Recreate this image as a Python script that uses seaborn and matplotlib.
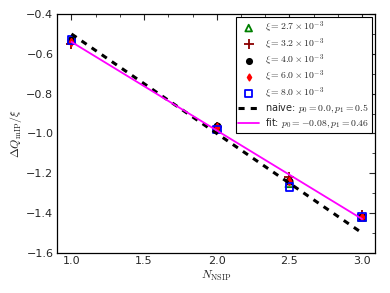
import numpy as np
import pandas as pd
import matplotlib
matplotlib.use("Agg")
import matplotlib.pyplot as plt
from matplotlib.ticker import MultipleLocator
import seaborn as sns

# values
n_nsip = [1.0, 2.0, 2.5, 3.0]
dq_27 = [-0.53, -0.97, -1.25, -1.42]
dq_32 = [-0.55, -0.97, -1.22, -1.41]
dq_40 = [-0.53, -0.96, -1.24, -1.42]
dq_60 = [-0.54, -0.97, -1.24, -1.42]
dq_80 = [-0.53, -0.98, -1.27, -1.42]
line_x = [1.0, 3.0]
naive_y = [-0.50, -1.50]
fit_y = [-0.54, -1.43]

sns.set_style("white")
plt.rcParams["mathtext.fontset"] = "cm"
plt.rcParams["font.family"] = ["DejaVu Sans"]

fig = plt.figure(figsize=(3.9, 2.93), dpi=100)
ax = fig.add_axes([0.146, 0.137, 0.816, 0.815])

series = [
    (dq_27, r"$\xi=2.7\times10^{-3}$", "^", "green", "none", 32),
    (dq_32, r"$\xi=3.2\times10^{-3}$", "+", "darkred", "darkred", 60),
    (dq_40, r"$\xi=4.0\times10^{-3}$", "o", "black", "black", 20),
    (dq_60, r"$\xi=6.0\times10^{-3}$", "d", "red", "red", 14),
    (dq_80, r"$\xi=8.0\times10^{-3}$", "s", "blue", "none", 32),
]
for vals, lab, mk, col, face, size in series:
    df = pd.DataFrame({"x": n_nsip, "y": vals})
    if face == "none":
        sns.scatterplot(data=df, x="x", y="y", marker=mk, s=size, facecolors="none",
                        edgecolor=col, linewidth=1.3, label=lab, ax=ax, zorder=3)
    else:
        sns.scatterplot(data=df, x="x", y="y", marker=mk, s=size, color=col,
                        edgecolor=col, linewidth=1.3, label=lab, ax=ax, zorder=3)

lines = pd.DataFrame({"x": line_x, "naive": naive_y, "fit": fit_y})
sns.lineplot(data=lines, x="x", y="naive", color="black", linestyle=(0, (2, 2)), linewidth=2.2,
             label=r"naive: $p_0=0.0, p_1=0.5$", ax=ax, zorder=4)
sns.lineplot(data=lines, x="x", y="fit", color="magenta", linewidth=1.3,
             label=r"fit: $p_0=-0.08, p_1=0.46$", ax=ax, zorder=4)

ax.set_xlim(0.9, 3.09)
ax.set_ylim(-1.6, -0.4)
ax.xaxis.set_major_locator(MultipleLocator(0.5))
ax.xaxis.set_minor_locator(MultipleLocator(0.5 / 3))
ax.yaxis.set_major_locator(MultipleLocator(0.2))
ax.yaxis.set_minor_locator(MultipleLocator(0.1))
ax.tick_params(which="both", direction="in", top=True, right=True, labelsize=8, pad=2.5)
ax.tick_params(which="major", length=4, width=0.8)
ax.tick_params(which="minor", length=2, width=0.6)
for sp in ax.spines.values():
    sp.set_color("black")
    sp.set_linewidth(0.9)

ax.set_xlabel(r"$N_{\rm NSIP}$", fontsize=8.5, labelpad=2)
ax.set_ylabel(r"$\Delta Q_{\rm mIP}/\xi$", fontsize=8.5, labelpad=2)

leg = ax.legend(loc="upper right", fontsize=7, frameon=True, fancybox=False,
                edgecolor="black", framealpha=1, borderpad=0.25, labelspacing=0.08,
                handlelength=2.2, handletextpad=0.6, borderaxespad=0.35, markerscale=0.85)
leg.get_frame().set_linewidth(0.8)

fig.savefig("out.png", dpi=100)
